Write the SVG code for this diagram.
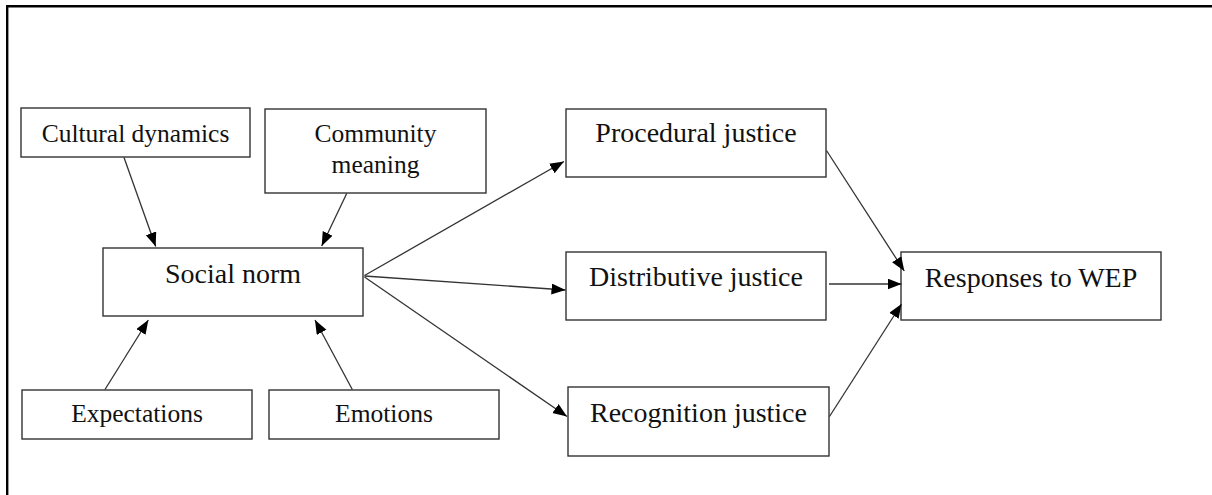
<svg xmlns="http://www.w3.org/2000/svg" width="1212" height="495" viewBox="0 0 1212 495">
  <defs>
    <marker id="arrow" markerUnits="userSpaceOnUse" markerWidth="15" markerHeight="12" refX="14" refY="5.5" orient="auto">
      <path d="M0,0 L14,5.5 L0,11 z" fill="#000"/>
    </marker>
    <style>
      .box { fill: #fff; stroke: #333; stroke-width: 1.4; }
      .lbl { font-family: "Liberation Serif", "Times New Roman", serif; fill: #111; text-anchor: middle; }
      .sm { font-size: 25.5px; }
      .lg { font-size: 28px; }
      .edge { stroke: #333; stroke-width: 1.3; fill: none; marker-end: url(#arrow); }
      .frame { stroke: #000; stroke-width: 2.4; fill: none; }
    </style>
  </defs>

  <rect width="1212" height="495" fill="#fff"/>
  <!-- open frame: top and left rules -->
  <path class="frame" d="M7.2,495 V6.2 H1212"/>

  <g id="cultural-dynamics">
    <rect class="box" x="21" y="108" width="229" height="49"/>
    <text class="lbl sm" x="135.5" y="141.5">Cultural dynamics</text>
  </g>
  <g id="community-meaning">
    <rect class="box" x="265" y="109" width="221" height="84"/>
    <text class="lbl sm" x="375.5" y="141.5">Community</text>
    <text class="lbl sm" x="375.5" y="172.5">meaning</text>
  </g>
  <g id="social-norm">
    <rect class="box" x="103" y="248" width="260" height="68"/>
    <text class="lbl lg" x="233" y="283">Social norm</text>
  </g>
  <g id="expectations">
    <rect class="box" x="22" y="390" width="230" height="49"/>
    <text class="lbl sm" x="137" y="422">Expectations</text>
  </g>
  <g id="emotions">
    <rect class="box" x="269" y="390" width="230" height="49"/>
    <text class="lbl sm" x="384" y="422">Emotions</text>
  </g>
  <g id="procedural-justice">
    <rect class="box" x="566" y="109" width="260" height="68"/>
    <text class="lbl lg" x="696" y="142">Procedural justice</text>
  </g>
  <g id="distributive-justice">
    <rect class="box" x="566" y="252" width="260" height="68"/>
    <text class="lbl lg" x="696" y="286">Distributive justice</text>
  </g>
  <g id="recognition-justice">
    <rect class="box" x="568" y="387" width="261" height="69"/>
    <text class="lbl lg" x="698.5" y="422">Recognition justice</text>
  </g>
  <g id="responses-to-wep">
    <rect class="box" x="901" y="252" width="260" height="68"/>
    <text class="lbl lg" x="1031" y="286.5">Responses to WEP</text>
  </g>

  <g id="connectors">
    <line class="edge" x1="124" y1="157.5" x2="155.7" y2="246.5"/>
    <line class="edge" x1="346.7" y1="193.5" x2="321.7" y2="246"/>
    <line class="edge" x1="105" y1="389.5" x2="148.3" y2="320"/>
    <line class="edge" x1="352.3" y1="389.5" x2="315" y2="320"/>
    <line class="edge" x1="364.5" y1="275.5" x2="564" y2="161.5"/>
    <line class="edge" x1="364.5" y1="276" x2="565.5" y2="290"/>
    <line class="edge" x1="364.5" y1="277" x2="567" y2="416.5"/>
    <line class="edge" x1="826.5" y1="150.5" x2="904.3" y2="271"/>
    <line class="edge" x1="829" y1="284" x2="901.5" y2="284"/>
    <line class="edge" x1="829.5" y1="416.5" x2="901.5" y2="304"/>
  </g>
</svg>
